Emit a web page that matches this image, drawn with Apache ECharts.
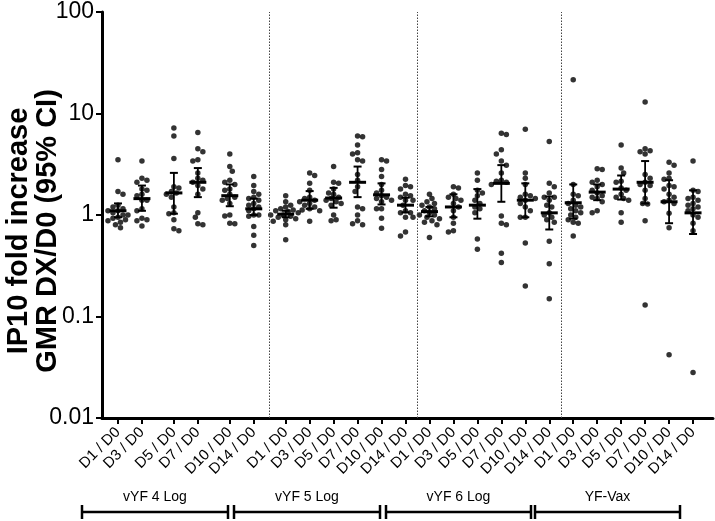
<!DOCTYPE html>
<html><head><meta charset="utf-8">
<script src="https://cdn.jsdelivr.net/npm/echarts/dist/echarts.min.js"></script>
<style>html,body{margin:0;padding:0;background:#fff}#c{width:715px;height:521px}</style>
</head><body><div id="c"></div>
<script>
// ---------------- DATA ----------------
const groups = ['vYF 4 Log', 'vYF 5 Log', 'vYF 6 Log', 'YF-Vax'];
const days = ['D1 / D0', 'D3 / D0', 'D5 / D0', 'D7 / D0', 'D10 / D0', 'D14 / D0'];
const yTicks = [0.01, 0.1, 1, 10, 100];

// individual fold increases, one list per day (D1, D3, D5, D7, D10, D14)
const vYF4 = [
  [3.5, 1.7, 1.6, 1.25, 1.2, 1.15, 1.1, 1.1, 1.05, 1.0, 1.0, 0.95, 0.93, 0.9, 0.88, 0.85, 0.8, 0.75],
  [3.4, 2.3, 2.2, 2.1, 1.8, 1.75, 1.6, 1.55, 1.4, 1.4, 1.15, 1.1, 0.93, 0.9, 0.88, 0.78],
  [7.2, 6.0, 3.6, 1.9, 1.85, 1.7, 1.65, 1.6, 1.5, 1.2, 1.05, 1.03, 0.9, 0.73, 0.7],
  [6.5, 4.5, 4.2, 3.5, 3.4, 2.6, 2.3, 2.2, 2.1, 1.95, 1.8, 1.6, 1.05, 0.95, 0.82, 0.8],
  [4.0, 3.0, 2.7, 2.2, 2.1, 2.0, 1.8, 1.75, 1.6, 1.5, 1.45, 1.4, 1.3, 1.0, 0.98, 0.83, 0.82],
  [2.4, 1.95, 1.7, 1.6, 1.5, 1.45, 1.4, 1.3, 1.25, 1.2, 1.15, 1.1, 1.0, 1.0, 0.97, 0.77, 0.63, 0.5]
];
const vYF4_gmr = [1.1, 1.45, 1.65, 2.1, 1.55, 1.15];
const vYF4_ciLow = [0.95, 1.1, 1.03, 1.5, 1.22, 1.0];
const vYF4_ciHigh = [1.3, 1.95, 2.6, 2.9, 2.0, 1.45];

const vYF5 = [
  [1.55, 1.35, 1.25, 1.2, 1.15, 1.12, 1.1, 1.08, 1.05, 1.0, 1.0, 0.97, 0.95, 0.92, 0.9, 0.87, 0.8, 0.57],
  [2.6, 2.45, 2.05, 1.75, 1.5, 1.45, 1.4, 1.35, 1.3, 1.25, 1.2, 1.15, 1.12, 1.1, 0.87],
  [3.0, 2.1, 2.05, 1.8, 1.65, 1.6, 1.5, 1.45, 1.4, 1.35, 1.3, 1.25, 1.0, 0.9, 0.88],
  [6.0, 5.9, 4.9, 4.1, 4.0, 3.5, 3.4, 2.5, 2.2, 1.9, 1.7, 1.2, 1.15, 1.0, 0.88, 0.82, 0.8],
  [3.5, 3.4, 2.8, 2.4, 2.0, 1.75, 1.65, 1.55, 1.5, 1.45, 1.4, 1.35, 1.15, 1.15, 0.93, 0.74],
  [2.25, 1.95, 1.9, 1.8, 1.6, 1.55, 1.5, 1.4, 1.4, 1.25, 1.1, 1.05, 1.05, 0.95, 0.95, 0.68, 0.62]
];
const vYF5_gmr = [1.02, 1.4, 1.47, 2.1, 1.58, 1.25];
const vYF5_ciLow = [0.95, 1.15, 1.18, 1.5, 1.27, 1.06];
const vYF5_ciHigh = [1.1, 1.72, 1.85, 3.0, 2.05, 1.48];

const vYF6 = [
  [1.6, 1.45, 1.35, 1.3, 1.25, 1.2, 1.15, 1.1, 1.05, 1.0, 1.0, 0.95, 0.92, 0.88, 0.85, 0.8, 0.6],
  [1.9, 1.85, 1.6, 1.5, 1.45, 1.4, 1.3, 1.2, 1.1, 0.95, 0.83, 0.7, 0.68],
  [2.6, 2.2, 1.75, 1.65, 1.55, 1.4, 1.3, 1.2, 1.15, 1.05, 0.58, 0.46],
  [6.4, 6.2, 4.4, 4.0, 3.4, 3.1, 2.6, 2.2, 2.15, 2.1, 2.0, 0.98, 0.83, 0.8, 0.42, 0.34],
  [7.0, 2.6, 2.3, 2.0, 1.6, 1.55, 1.5, 1.45, 1.4, 1.3, 1.2, 1.1, 0.95, 0.95, 0.53, 0.2],
  [5.3, 2.05, 1.9, 1.65, 1.5, 1.5, 1.4, 1.25, 1.2, 1.05, 1.0, 0.95, 0.9, 0.85, 0.55, 0.33, 0.15]
];
const vYF6_gmr = [1.08, 1.2, 1.25, 2.05, 1.4, 1.05];
const vYF6_ciLow = [0.97, 0.95, 0.92, 1.35, 0.95, 0.72];
const vYF6_ciHigh = [1.2, 1.6, 1.8, 3.1, 2.05, 1.52];

const yfVax = [
  [21.5, 2.0, 1.6, 1.55, 1.4, 1.3, 1.25, 1.2, 1.15, 1.1, 1.05, 1.0, 0.95, 0.9, 0.85, 0.83, 0.62],
  [2.85, 2.8, 2.2, 2.1, 2.0, 1.9, 1.75, 1.65, 1.55, 1.5, 1.45, 1.35, 1.1, 1.05],
  [4.9, 2.9, 2.6, 2.15, 2.1, 1.85, 1.75, 1.6, 1.5, 1.45, 1.4, 1.05, 0.85],
  [13.0, 4.5, 4.3, 4.2, 4.0, 2.5, 2.3, 2.1, 2.0, 1.95, 1.75, 1.45, 1.3, 1.28, 0.88, 0.13],
  [3.3, 3.1, 2.6, 2.3, 2.25, 1.95, 1.9, 1.8, 1.6, 1.5, 1.4, 1.35, 1.3, 1.04, 0.75, 0.042],
  [3.4, 1.75, 1.7, 1.5, 1.45, 1.4, 1.3, 1.25, 1.2, 1.15, 1.1, 1.0, 0.95, 0.83, 0.7, 0.028]
];
const yfVax_gmr = [1.32, 1.68, 1.8, 2.1, 1.35, 1.05];
const yfVax_ciLow = [0.92, 1.4, 1.42, 1.3, 0.83, 0.65];
const yfVax_ciHigh = [2.0, 2.0, 2.45, 3.4, 2.2, 1.75];

const groupPoints = [vYF4, vYF5, vYF6, yfVax];
const groupGmr = [vYF4_gmr, vYF5_gmr, vYF6_gmr, yfVax_gmr];
const groupLow = [vYF4_ciLow, vYF5_ciLow, vYF6_ciLow, yfVax_ciLow];
const groupHigh = [vYF4_ciHigh, vYF5_ciHigh, vYF6_ciHigh, yfVax_ciHigh];

// ---------------- LAYOUT (axis slots, not data) ----------------
// The original has uneven column spacing in the first group; columns sit on a fine category grid.
const firstSlot = 4;
const slotSteps = [6, 8, 6, 8, 6, 8, 6, 6, 6, 6, 6, 6, 6, 6, 6, 6, 6, 6, 6, 6, 6, 6, 6];
const totalSlots = 154;

const colSlot = [firstSlot];
slotSteps.forEach(s => colSlot.push(colSlot[colSlot.length - 1] + s));
const axisCats = new Array(totalSlots).fill('');
const isLabelSlot = new Array(totalSlots).fill(false);
groups.forEach((g, gi) => days.forEach((d, di) => {
  const s = colSlot[gi * days.length + di];
  axisCats[s] = d; isLabelSlot[s] = true;
}));
const separators = [];
for (let gi = 1; gi < groups.length; gi++) {
  separators.push((colSlot[gi * days.length - 1] + colSlot[gi * days.length]) / 2);
}

const FONT = "'Liberation Sans', Arial, Helvetica, sans-serif";
const chart = echarts.init(document.getElementById('c'), null, { renderer: 'canvas' });

const baseOption = {
  animation: false,
  backgroundColor: '#fff',
  grid: { left: 102, top: 12, width: 611, height: 406, containLabel: false, outerBoundsMode: 'none' },
  xAxis: {
    type: 'category', data: axisCats, boundaryGap: false,
    axisLine: { show: true, lineStyle: { color: '#000', width: 3 } },
    axisTick: { show: true, length: 6, lineStyle: { color: '#000', width: 2 }, interval: (i) => isLabelSlot[i] },
    axisLabel: { interval: (i) => isLabelSlot[i], rotate: 45, fontSize: 15, color: '#000', fontFamily: FONT, margin: 12 },
    splitLine: { show: false }
  },
  yAxis: {
    type: 'log', logBase: 10, min: yTicks[0], max: yTicks[yTicks.length - 1],
    axisLine: { show: true, lineStyle: { color: '#000', width: 3 } },
    axisTick: { show: true, length: 6, lineStyle: { color: '#000', width: 2 } },
    minorTick: { show: false },
    axisLabel: { fontSize: 23, color: '#000', fontFamily: FONT, margin: 8,
      formatter: v => String(parseFloat(Number(v).toPrecision(6))) },
    splitLine: { show: false }
  },
  series: []
};
chart.setOption(baseOption);

// beeswarm horizontal spread computed from pixel positions given by the y axis
function swarm(vals) {
  const D = 5, step = 2.5;
  const ys = vals.map(v => chart.convertToPixel({ yAxisIndex: 0 }, v));
  const order = vals.map((v, i) => i).sort((a, b) => vals[b] - vals[a]);
  const placed = [];
  const dx = new Array(vals.length).fill(0);
  let flip = 1;
  for (const i of order) {
    const y = ys[i];
    let chosen = 0;
    for (let k = 0; k < 30; k++) {
      const cands = k === 0 ? [0] : [flip * k * step, -flip * k * step];
      let ok = null;
      for (const c of cands) {
        if (placed.every(p => Math.hypot(p[0] - c, p[1] - y) >= D)) { ok = c; break; }
      }
      if (ok !== null) { chosen = ok; break; }
    }
    if (chosen !== 0) flip = -flip;
    dx[i] = chosen;
    placed.push([chosen, y]);
  }
  return dx;
}

const dotData = [];
const barData = [];
groups.forEach((g, gi) => days.forEach((d, di) => {
  const slot = colSlot[gi * days.length + di];
  const vals = groupPoints[gi][di];
  const dx = swarm(vals);
  vals.forEach((v, k) => dotData.push({ value: [slot, v], symbolOffset: [dx[k], 0] }));
  barData.push([slot, groupGmr[gi][di], groupLow[gi][di], groupHigh[gi][di]]);
}));

chart.setOption({
  series: [
    {
      type: 'scatter', name: 'individual', data: dotData, symbol: 'circle', symbolSize: 5.5,
      itemStyle: { color: '#000' }, z: 2, silent: true,
      markLine: {
        silent: true, symbol: ['none', 'none'], label: { show: false },
        lineStyle: { type: [1.5, 1.5], color: '#444', width: 1 },
        data: separators.map(s => ({ xAxis: s }))
      }
    },
    {
      type: 'custom', name: 'GMR (95% CI)', data: barData, z: 3, silent: true,
      encode: { x: 0, y: [1, 2, 3] },
      renderItem: (params, api) => {
        const x = api.value(0);
        const c = api.coord([x, api.value(1)]);
        const lo = api.coord([x, api.value(2)]);
        const hi = api.coord([x, api.value(3)]);
        const cx = c[0];
        return {
          type: 'group', children: [
            { type: 'line', shape: { x1: cx, y1: hi[1], x2: cx, y2: lo[1] }, style: { stroke: '#000', lineWidth: 1.8 } },
            { type: 'line', shape: { x1: cx - 4, y1: hi[1], x2: cx + 4, y2: hi[1] }, style: { stroke: '#000', lineWidth: 2 } },
            { type: 'line', shape: { x1: cx - 4, y1: lo[1], x2: cx + 4, y2: lo[1] }, style: { stroke: '#000', lineWidth: 2 } },
            { type: 'line', shape: { x1: cx - 8.5, y1: c[1], x2: cx + 8.5, y2: c[1] }, style: { stroke: '#000', lineWidth: 3 } }
          ]
        };
      }
    }
  ]
});

// axis title and group brackets (annotations)
const bracketSpans = [[82, 228], [234, 380], [386, 531], [535, 680]];
const gfx = [
  { type: 'text', x: 19, y: 231, rotation: Math.PI / 2, style: { text: 'IP10 fold increase', font: "bold 29px " + FONT, fill: '#000', align: 'center', verticalAlign: 'middle' } },
  { type: 'text', x: 48, y: 231, rotation: Math.PI / 2, style: { text: 'GMR DX/D0 (95% CI)', font: "bold 29px " + FONT, fill: '#000', align: 'center', verticalAlign: 'middle' } }
];
groups.forEach((g, gi) => {
  const [a, b] = bracketSpans[gi];
  gfx.push({ type: 'line', shape: { x1: a, y1: 512, x2: b, y2: 512 }, style: { stroke: '#000', lineWidth: 2.5 } });
  gfx.push({ type: 'line', shape: { x1: a, y1: 505, x2: a, y2: 519 }, style: { stroke: '#000', lineWidth: 2.5 } });
  gfx.push({ type: 'line', shape: { x1: b, y1: 505, x2: b, y2: 519 }, style: { stroke: '#000', lineWidth: 2.5 } });
  gfx.push({ type: 'text', x: (a + b) / 2, y: 497, style: { text: g, font: "14px " + FONT, fill: '#000', align: 'center', verticalAlign: 'middle' } });
});
chart.setOption({ graphic: gfx });
</script>
</body></html>
